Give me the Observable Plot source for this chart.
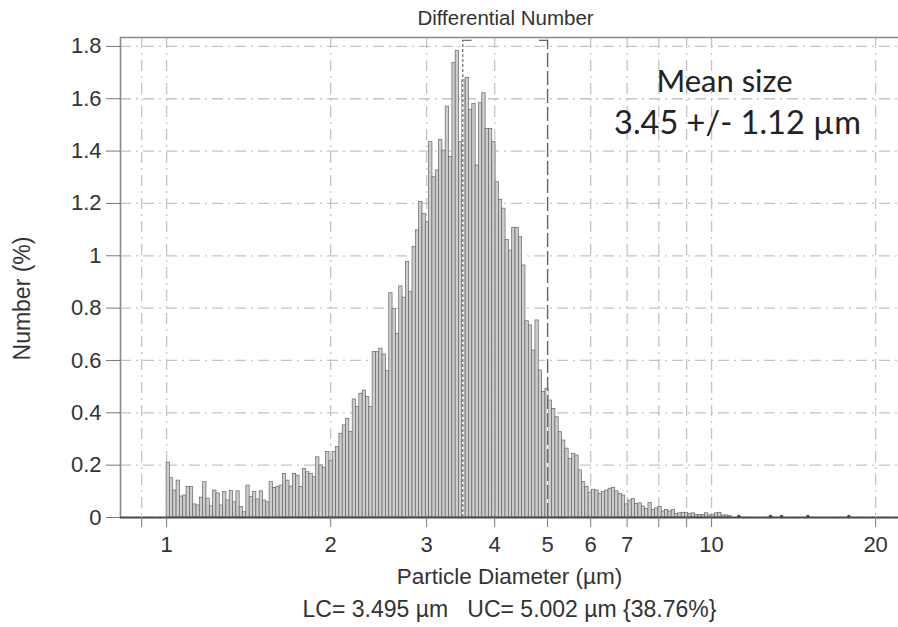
<!DOCTYPE html>
<html>
<head>
<meta charset="utf-8">
<script src="https://cdn.jsdelivr.net/npm/d3@7"></script>
<script src="https://cdn.jsdelivr.net/npm/@observablehq/plot@0.6"></script>
<style>
  html, body { margin: 0; padding: 0; background: #fff; }
  #chart { width: 898px; height: 627px; }
</style>
</head>
<body>
<div id="chart"></div>
<script>
// ---- data ----
const titleText = "Differential Number";
const xLabel = "Particle Diameter (µm)";
const yLabel = "Number (%)";
const captionText = "LC= 3.495 µm   UC= 5.002 µm {38.76%}";
const noteLines = ["Mean size", "3.45 +/- 1.12 µm"];

const firstBinEdge = 1.0;      // µm, lower edge of first channel
const binsPerDecade = 164;     // log-spaced channels
const numberPct = [
  0.21, 0.15, 0.103, 0.141, 0.08, 0.084, 0.116, 0.116, 0.05, 0.046,
  0.076, 0.135, 0.072, 0.043, 0.103, 0.092, 0.046, 0.097, 0.065, 0.101,
  0.058, 0.1, 0.04, 0.02, 0.122, 0.078, 0.097, 0.069, 0.1, 0.065,
  0.058, 0.135, 0.113, 0.116, 0.122, 0.167, 0.141, 0.118, 0.167, 0.16,
  0.116, 0.186, 0.173, 0.167, 0.154, 0.23, 0.199, 0.19, 0.25, 0.215,
  0.25, 0.27, 0.32, 0.352, 0.377, 0.326, 0.451, 0.422, 0.473, 0.485,
  0.46, 0.422, 0.632, 0.632, 0.645, 0.623, 0.559, 0.857, 0.797, 0.702,
  0.883, 0.84, 0.976, 0.861, 1.033, 1.097, 1.205, 1.16, 1.128, 1.434,
  1.3, 1.326, 1.443, 1.402, 1.57, 1.377, 1.737, 1.782, 1.434, 1.67,
  1.68, 1.558, 1.58, 1.345, 1.583, 1.621, 1.485, 1.485, 1.434, 1.281,
  1.214, 1.18, 1.06, 1.02, 1.107, 1.107, 1.071, 0.963, 0.75, 0.734,
  0.638, 0.753, 0.562, 0.48, 0.492, 0.447, 0.415, 0.383, 0.326, 0.294,
  0.263, 0.224, 0.243, 0.237, 0.18, 0.135, 0.116, 0.093, 0.106, 0.103,
  0.09, 0.097, 0.103, 0.11, 0.113, 0.1, 0.09, 0.084, 0.05, 0.065,
  0.071, 0.052, 0.054, 0.042, 0.033, 0.055, 0.029, 0.035, 0.04, 0.023,
  0.029, 0.023, 0.029, 0.014, 0.016, 0.018, 0.018, 0.014, 0.016, 0.01,
  0.01, 0.01, 0.016, 0.008, 0.01, 0.016, 0.018, 0.008, 0.008, 0.006
];
const tailSizes = [11.22, 12.83, 13.44, 15.02, 17.86];
const tailPct = [0.004, 0.004, 0.004, 0.004, 0.004];

const lowerCursor = 3.495;
const upperCursor = 5.002;

const xDomain = [0.823, 22.03];
const yDomain = [0, 1.834];
const cursorTop = 1.823;
const xTicks = [0.9, 1, 2, 3, 4, 5, 6, 7, 8, 9, 10, 20];
const xTickLabels = [1, 2, 3, 4, 5, 6, 7, 10, 20];
const yTicks = [0, 0.2, 0.4, 0.6, 0.8, 1, 1.2, 1.4, 1.6, 1.8];

// ---- build table ----
const bins = numberPct.map((v, i) => ({
  x1: firstBinEdge * Math.pow(10, i / binsPerDecade),
  x2: firstBinEdge * Math.pow(10, (i + 1) / binsPerDecade),
  v
}));
const tail = tailSizes.map((s, i) => ({s, v: tailPct[i]}));

const font = "'Liberation Sans', Arial, Helvetica, sans-serif";
const noteFont = "Lato, 'Open Sans', sans-serif";
const gridStyle = {stroke: "#c4c4c4", strokeOpacity: 1, strokeWidth: 1.3, strokeDasharray: "11,5,2,5"};

const chart = Plot.plot({
  width: 898,
  height: 627,
  marginLeft: 120,
  marginRight: 0,
  marginTop: 37,
  marginBottom: 110,
  x: {type: "log", domain: xDomain},
  y: {domain: yDomain},
  style: {fontFamily: font, fontSize: "22px", color: "#333", background: "#fff", overflow: "visible"},
  marks: [
    Plot.gridX(xTicks, gridStyle),
    Plot.gridY(yTicks, gridStyle),
    Plot.rectY(bins, {x1: "x1", x2: "x2", y: "v", fill: "#cdcdcd", stroke: "#666", strokeWidth: 0.7}),
    Plot.dot(tail, {x: "s", y: "v", r: 1.8, fill: "#444", stroke: "none"}),
    // cursors
    Plot.ruleX([lowerCursor, upperCursor], {y1: 0, y2: cursorTop, stroke: "#fff", strokeWidth: 1.6}),
    Plot.ruleX([lowerCursor], {y1: 0, y2: cursorTop, stroke: "#777", strokeWidth: 1.3, strokeDasharray: "3,2"}),
    Plot.ruleX([upperCursor], {y1: 0, y2: cursorTop, stroke: "#666", strokeWidth: 1.4, strokeDasharray: "14,4"}),
    Plot.ruleY([cursorTop], {x1: lowerCursor, x2: lowerCursor * 1.04, stroke: "#777", strokeWidth: 1.3}),
    Plot.ruleY([cursorTop], {x1: upperCursor / 1.035, x2: upperCursor, stroke: "#666", strokeWidth: 1.3}),
    // frame
    Plot.ruleX([xDomain[0]], {stroke: "#8a8a8a", strokeWidth: 1.6}),
    Plot.ruleY([yDomain[1]], {stroke: "#8a8a8a", strokeWidth: 1.6}),
    Plot.ruleY([0], {stroke: "#4a4a4a", strokeWidth: 2}),
    // axes
    Plot.axisX(xTicks, {
      anchor: "bottom", tickSize: 10, tickPadding: 9, stroke: "#777", fontSize: 22,
      tickFormat: d => xTickLabels.includes(d) ? String(d) : "", label: null
    }),
    Plot.axisY(yTicks, {
      anchor: "left", tickSize: 14, tickPadding: 5, stroke: "#777", fontSize: 22,
      tickFormat: d => d3.format("~g")(d), label: null
    }),
    // texts
    Plot.text([titleText], {frameAnchor: "top", lineAnchor: "middle", dx: -4, dy: -19, fontSize: 20.5, fill: "#333", text: d => d}),
    Plot.text([xLabel], {frameAnchor: "bottom", lineAnchor: "middle", dy: 59, fontSize: 22.5, fill: "#333", text: d => d}),
    Plot.text([captionText], {frameAnchor: "bottom", lineAnchor: "middle", dy: 92, fontSize: 23, fill: "#333", text: d => d}),
    Plot.text([yLabel], {frameAnchor: "left", textAnchor: "middle", dx: -98, dy: 21, rotate: -90, fontSize: 23, fill: "#333", text: d => d}),
    Plot.text([noteLines[0]], {frameAnchor: "top", lineAnchor: "middle", dx: 215, dy: 45, fontSize: 31, fontFamily: noteFont, fill: "#222", text: d => d}),
    Plot.text([noteLines[1]], {frameAnchor: "top", lineAnchor: "middle", dx: 228, dy: 86, fontSize: 32.5, fontFamily: noteFont, fill: "#222", text: d => d})
  ]
});
document.getElementById("chart").append(chart);
</script>
</body>
</html>
